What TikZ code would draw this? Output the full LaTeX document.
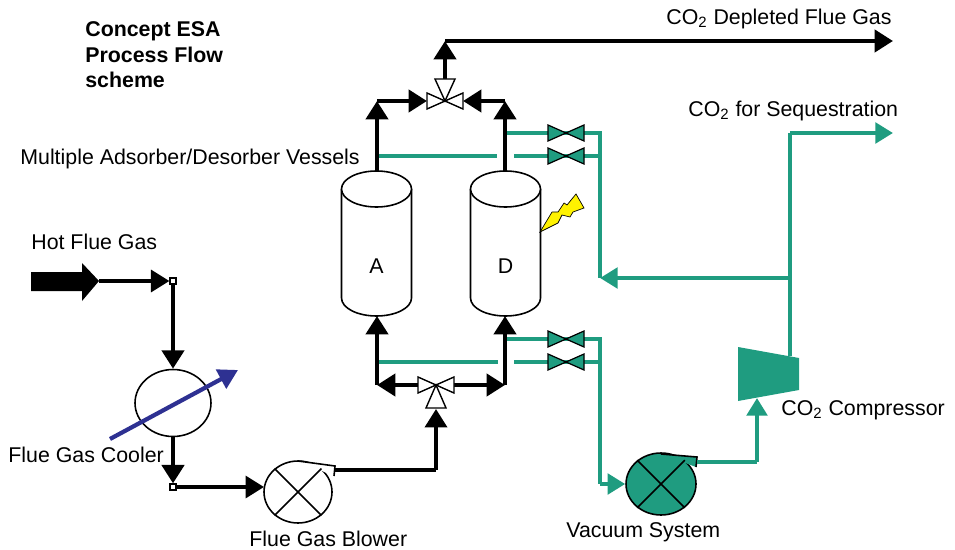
\documentclass[tikz,border=0pt]{standalone}
\usepackage{fontspec}
\setmainfont{Liberation Sans}
\usetikzlibrary{arrows.meta,shapes.geometric}
\definecolor{co2green}{HTML}{1F9C80}
\definecolor{coolblue}{HTML}{2E3192}
\tikzset{
  pipe/.style={line width=2.6pt,-{Triangle[length=10.5pt,width=12.5pt]}},
  plainpipe/.style={line width=2.2pt},
  greenpipe/.style={line width=2.5pt,color=co2green},
  greenflow/.style={greenpipe,-{Triangle[length=10pt,width=11.5pt]}},
  vessel/.style={draw,fill=white,line width=0.9pt},
  machine/.style={draw,ellipse,line width=0.9pt,inner sep=0pt},
  valve/.style={draw,fill=white,line width=0.8pt},
  gvalve/.style={draw,fill=co2green,line width=0.7pt},
  tap/.style={draw,fill=white,line width=0.7pt,minimum size=3.4pt,inner sep=0pt},
  label/.style={anchor=west,inner sep=0pt,font=\fontsize{12.15}{14.5}\selectfont}
}
\begin{document}
\begin{tikzpicture}[x=0.02cm,y=-0.02cm]
\useasboundingbox (0,0) rectangle (955,550);
% junction points
\coordinate (atop) at (377,171);
\coordinate (dtop) at (505,171);
\coordinate (abot) at (377,316);
\coordinate (dbot) at (505,316);
\coordinate (upvalve) at (445,101);
\coordinate (lowvalve) at (436,385);
\coordinate (upleft) at (377,101);
\coordinate (upright) at (505,101);
\coordinate (lowleft) at (377,385);
\coordinate (lowright) at (505,385);
\coordinate (stack) at (445,41);
\coordinate (stackend) at (893,41);
\coordinate (seqend) at (893,133);
\coordinate (seqcorner) at (790,133);
\coordinate (split) at (790,278);
\coordinate (ret) at (600,278);
\coordinate (blowerout) at (335,470);
\coordinate (blowerup) at (436,470);
\coordinate (blowerin) at (264,487);
\coordinate (vacout) at (697,462);
\coordinate (vacup) at (757,462);
\coordinate (compin) at (757,398);
\coordinate (compout) at (790,356);
\coordinate (gastail) at (99,281);
\coordinate (blueA) at (110,439);
\coordinate (blueB) at (238,370);
% green pipes at the vessels
\draw[greenpipe] (505,133) -- (600,133) -- (ret);
\draw[greenpipe] (375,156) -- (497,156);
\draw[greenpipe] (514,156) -- (600,156);
\draw[greenpipe] (505,339) -- (600,339) -- (600,484);
\draw[greenpipe] (378,362) -- (498,362);
\draw[greenpipe] (514,362) -- (600,362);
\foreach \y in {133,156,339,362}
  \draw[gvalve] (548,\y-8) -- (584,\y+8) -- (584,\y-8) -- (548,\y+8) -- cycle;
\draw[greenpipe] (compout) -- (seqcorner);
\draw[greenflow] (seqcorner) -- (seqend);
\draw[greenflow] (split) -- (ret);
% vessels
\foreach \xc/\nm in {376.5/A,505.5/D} {
  \draw[vessel] (\xc-35,189) -- (\xc-35,298) arc[start angle=180,end angle=360,x radius=35,y radius=-18] -- (\xc+35,189);
  \draw[vessel] (\xc,189) ellipse [x radius=35,y radius=18];
  \node (vessel\nm) at (\xc,266) {\fontsize{12.15}{14.5}\selectfont \nm};
}
% equipment
\node[machine,minimum width=1.52cm,minimum height=1.34cm] (cooler) at (173,403) {};
\node[tap] (tapA) at (173,281) {};
\node[tap] (tapB) at (173,487) {};
\node[machine,minimum width=1.36cm,minimum height=1.24cm] (blower) at (298,492) {};
\node[machine,fill=co2green,minimum width=1.4cm,minimum height=1.24cm] (vacuum) at (661,484) {};
\draw[line width=0.9pt,fill=white] (298,461) -- (335,466) -- (334,476);
\draw[line width=0.9pt,fill=co2green] (661,454) -- (697,457) -- (696,467);
\foreach \m in {blower,vacuum} {
  \draw[line width=0.9pt] (\m.45) -- (\m.225);
  \draw[line width=0.9pt] (\m.135) -- (\m.315);
}
\fill[co2green] (738,347) -- (799,358) -- (799,390) -- (738,401) -- cycle;
% black pipes
\draw[pipe] (atop) -- (upleft);
\draw[pipe] (dtop) -- (upright);
\draw[pipe] (upleft) -- (427,101);
\draw[pipe] (upright) -- (463,101);
\draw[pipe] (445,79) -- (stack);
\draw[pipe] (stack) -- (stackend);
\draw[pipe] (lowleft) -- (abot);
\draw[pipe] (lowright) -- (dbot);
\draw[pipe] (418,385) -- (lowleft);
\draw[pipe] (454,385) -- (lowright);
\draw[plainpipe] (blowerout) -- (blowerup);
\draw[pipe,line width=2.2pt] (blowerup) -- (436,409);
\draw[pipe,line width=2pt] (gastail) -- (tapA);
\draw[pipe] (tapA) -- (cooler);
\draw[pipe] (cooler) -- (tapB);
\draw[pipe,line width=2pt] (tapB) -- (blowerin);
% valves
\draw[valve] (427,93) -- (463,109) -- (463,93) -- (427,109) -- cycle;
\draw[valve] (435,79) -- (455,79) -- (upvalve) -- cycle;
\draw[valve] (418,377) -- (454,393) -- (454,377) -- (418,393) -- cycle;
\draw[valve] (426,408) -- (446,408) -- (lowvalve) -- cycle;
% green pipes from the vacuum system
\draw[greenflow] (600,484) -- (vacuum);
\draw[greenpipe] (vacout) -- (vacup);
\draw[greenflow] (vacup) -- (compin);
% hot gas arrow, heat arrow, spark
\fill (31,272) -- (82,272) -- (82,263) -- (99,281) -- (82,301) -- (82,291) -- (31,291) -- cycle;
\draw[line width=2.4pt,color=coolblue,-{Triangle[length=11pt,width=12pt]}] (blueA) -- (blueB);
\draw[fill=yellow,line width=0.4pt] (540,232) -- (552,212) -- (558,212) -- (564,203) -- (567,205) -- (576,194) -- (584,208) -- (573,212) -- (570,217) -- (562,215) -- (558,223) -- cycle;
% labels
\node[label,font=\fontsize{12.15}{14.5}\selectfont\bfseries,align=left] (title) at (85,55) {Concept ESA\\Process Flow\\scheme};
\node[label] (depleted) at (666,19) {CO\textsubscript{2} Depleted Flue Gas};
\node[label] (sequest) at (688,111) {CO\textsubscript{2} for Sequestration};
\node[label] (vessels) at (20,159) {Multiple Adsorber/Desorber Vessels};
\node[label] (hotgas) at (31,242) {Hot Flue Gas};
\node[label] (coolertxt) at (8,455) {Flue Gas Cooler};
\node[label] (blowertxt) at (249,539) {Flue Gas Blower};
\node[label] (vacuumtxt) at (566,532) {Vacuum System};
\node[label] (comptxt) at (781,410) {CO\textsubscript{2} Compressor};
\end{tikzpicture}
\end{document}
